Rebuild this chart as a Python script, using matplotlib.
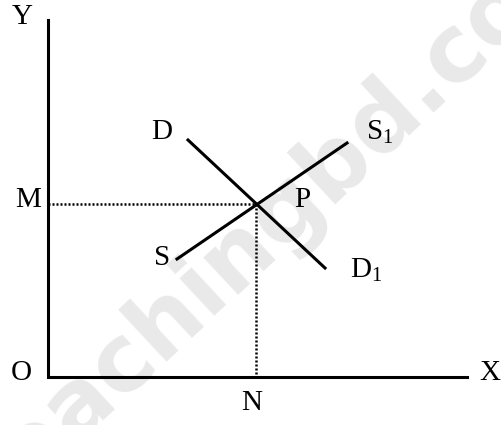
import matplotlib
matplotlib.use("Agg")
import matplotlib.pyplot as plt

plt.rcParams['mathtext.fontset'] = 'custom'
plt.rcParams['mathtext.rm'] = 'Liberation Serif'
plt.rcParams['mathtext.it'] = 'Liberation Serif'

# Data (quantity x, price y), origin at O
axis_x_end = 419
axis_y_end = 357
demand_x = [140, 277]
demand_y = [237, 109]
supply_x = [129, 299]
supply_y = [118, 234]
eq_x = 208
eq_y = 173

labels = {
    'Y': (-26, 360), 'X': (442, 4), 'O': (-27, 4), 'M': (-20, 177), 'N': (204, -26),
    'D': (114, 245), 'S$_\\mathrm{1}$': (332, 245), 'P': (254, 177), 'S': (114, 119),
    'D$_\\mathrm{1}$': (318, 107),
}

fig = plt.figure(figsize=(5.02, 4.25), dpi=100)
ax = fig.add_axes([0, 0, 1, 1])
ax.set_xlim(-48, 454)
ax.set_ylim(-48, 377)
ax.axis('off')

# watermark
ax.text(238, 164, 'teachingbd.com', fontsize=67, fontweight='bold', color='#e9e9e9',
        rotation=43, ha='center', va='center', family='DejaVu Sans', zorder=0)

# axes
ax.plot([0, 0, axis_x_end], [axis_y_end, 0, 0], color='black', lw=2.2,
        solid_joinstyle='miter', zorder=3)

# dotted guides
ax.plot([0, eq_x], [eq_y, eq_y], color='black', lw=1.8, ls=(0, (0.8, 0.8)), zorder=2)
ax.plot([eq_x, eq_x], [eq_y, 0], color='black', lw=1.8, ls=(0, (0.8, 0.8)), zorder=2)

# curves
ax.plot(demand_x, demand_y, color='black', lw=2.2, zorder=3)
ax.plot(supply_x, supply_y, color='black', lw=2.2, zorder=3)

for txt, (x, y) in labels.items():
    ax.text(x, y, txt, fontsize=21, family='Liberation Serif', ha='center',
            va='center', color='black', zorder=4)

fig.savefig('out.png', dpi=100, facecolor='white')
